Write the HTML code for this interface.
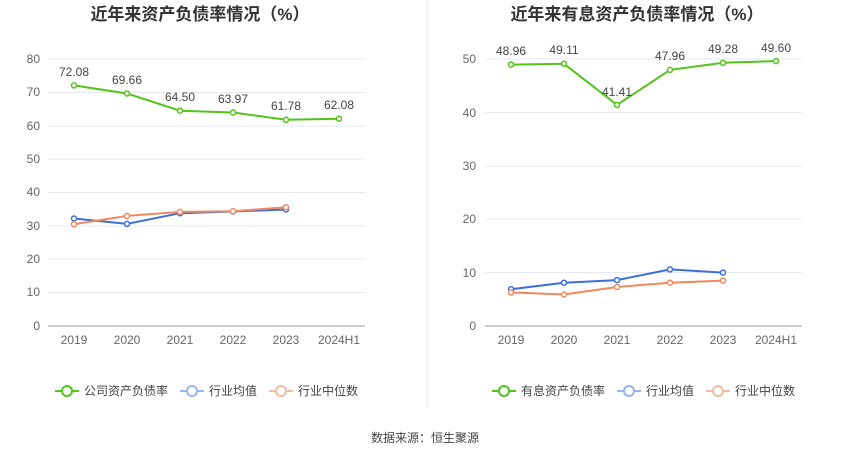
<!DOCTYPE html>
<html><head><meta charset="utf-8"><style>
html,body{margin:0;padding:0;background:#fff;}
svg{display:block;font-family:"Liberation Sans","Noto Sans CJK SC",sans-serif;}
</style></head><body>
<svg width="850" height="459" viewBox="0 0 850 459" xmlns="http://www.w3.org/2000/svg">
<rect width="850" height="459" fill="#fff"/>
<text x="200" y="20" text-anchor="middle" font-size="17" font-weight="bold" fill="#333">近年来资产负债率情况（%）</text>
<text x="637" y="20" text-anchor="middle" font-size="17" font-weight="bold" fill="#333">近年来有息资产负债率情况（%）</text>
<line x1="427" y1="0" x2="427" y2="408" stroke="#e8e8e8"/>
<!-- left grid -->
<g stroke="#e6e9f0" stroke-width="1">
<line x1="48" x2="365" y1="59" y2="59"/><line x1="48" x2="365" y1="92.5" y2="92.5"/><line x1="48" x2="365" y1="126" y2="126"/><line x1="48" x2="365" y1="159" y2="159"/><line x1="48" x2="365" y1="192.5" y2="192.5"/><line x1="48" x2="365" y1="226" y2="226"/><line x1="48" x2="365" y1="259" y2="259"/><line x1="48" x2="365" y1="292.5" y2="292.5"/>
</g>
<line x1="48" x2="365" y1="326" y2="326" stroke="#999"/>
<g font-size="12" fill="#666" text-anchor="end">
<text x="40" y="63">80</text><text x="40" y="96">70</text><text x="40" y="130">60</text><text x="40" y="163">50</text><text x="40" y="196">40</text><text x="40" y="230">30</text><text x="40" y="263">20</text><text x="40" y="296">10</text><text x="40" y="330">0</text>
</g>
<g font-size="12" fill="#666" text-anchor="middle">
<text x="74" y="344">2019</text><text x="127" y="344">2020</text><text x="180" y="344">2021</text><text x="233" y="344">2022</text><text x="286" y="344">2023</text><text x="339" y="344">2024H1</text>
</g>
<g fill="none" stroke-width="2">
<polyline stroke="#52c41a" points="74,85.4 127,93.5 180,110.7 233,112.5 286,119.8 339,118.8"/>
<polyline stroke="#3b6fd8" points="74,218.5 127,223.9 180,213.2 233,211.5 286,209.5"/>
<polyline stroke="#f08a5d" points="74,224.2 127,215.9 180,211.9 233,211.2 286,207.2"/>
</g>
<g fill="#fff" stroke-width="1.5">
<g stroke="#52c41a"><circle cx="74" cy="85.4" r="2.5"/><circle cx="127" cy="93.5" r="2.5"/><circle cx="180" cy="110.7" r="2.5"/><circle cx="233" cy="112.5" r="2.5"/><circle cx="286" cy="119.8" r="2.5"/><circle cx="339" cy="118.8" r="2.5"/></g>
<g stroke="#3b6fd8"><circle cx="74" cy="218.5" r="2.5"/><circle cx="127" cy="223.9" r="2.5"/><circle cx="180" cy="213.2" r="2.5"/><circle cx="233" cy="211.5" r="2.5"/><circle cx="286" cy="209.5" r="2.5"/></g>
<g stroke="#f08a5d"><circle cx="74" cy="224.2" r="2.5"/><circle cx="127" cy="215.9" r="2.5"/><circle cx="180" cy="211.9" r="2.5"/><circle cx="233" cy="211.2" r="2.5"/><circle cx="286" cy="207.2" r="2.5"/></g>
</g>
<g font-size="12" fill="#444" text-anchor="middle">
<text x="74" y="76">72.08</text><text x="127" y="84">69.66</text><text x="180" y="101">64.50</text><text x="233" y="103">63.97</text><text x="286" y="110">61.78</text><text x="339" y="109">62.08</text>
</g>
<!-- right grid -->
<g stroke="#e6e9f0" stroke-width="1">
<line x1="485" x2="802" y1="59" y2="59"/><line x1="485" x2="802" y1="112.5" y2="112.5"/><line x1="485" x2="802" y1="166" y2="166"/><line x1="485" x2="802" y1="219" y2="219"/><line x1="485" x2="802" y1="272.5" y2="272.5"/>
</g>
<line x1="485" x2="802" y1="326" y2="326" stroke="#999"/>
<g font-size="12" fill="#666" text-anchor="end">
<text x="476" y="63">50</text><text x="476" y="117">40</text><text x="476" y="170">30</text><text x="476" y="223">20</text><text x="476" y="277">10</text><text x="476" y="330">0</text>
</g>
<g font-size="12" fill="#666" text-anchor="middle">
<text x="511" y="344">2019</text><text x="564" y="344">2020</text><text x="617" y="344">2021</text><text x="670" y="344">2022</text><text x="723" y="344">2023</text><text x="776" y="344">2024H1</text>
</g>
<g fill="none" stroke-width="2">
<polyline stroke="#52c41a" points="511,64.6 564,63.8 617,104.9 670,69.9 723,62.8 776,61.1"/>
<polyline stroke="#3b6fd8" points="511,289.2 564,282.7 617,280.1 670,269.4 723,272.6"/>
<polyline stroke="#f08a5d" points="511,292.4 564,294.5 617,287 670,282.7 723,280.6"/>
</g>
<g fill="#fff" stroke-width="1.5">
<g stroke="#52c41a"><circle cx="511" cy="64.6" r="2.5"/><circle cx="564" cy="63.8" r="2.5"/><circle cx="617" cy="104.9" r="2.5"/><circle cx="670" cy="69.9" r="2.5"/><circle cx="723" cy="62.8" r="2.5"/><circle cx="776" cy="61.1" r="2.5"/></g>
<g stroke="#3b6fd8"><circle cx="511" cy="289.2" r="2.5"/><circle cx="564" cy="282.7" r="2.5"/><circle cx="617" cy="280.1" r="2.5"/><circle cx="670" cy="269.4" r="2.5"/><circle cx="723" cy="272.6" r="2.5"/></g>
<g stroke="#f08a5d"><circle cx="511" cy="292.4" r="2.5"/><circle cx="564" cy="294.5" r="2.5"/><circle cx="617" cy="287" r="2.5"/><circle cx="670" cy="282.7" r="2.5"/><circle cx="723" cy="280.6" r="2.5"/></g>
</g>
<g font-size="12" fill="#444" text-anchor="middle">
<text x="511" y="55">48.96</text><text x="564" y="54">49.11</text><text x="617" y="96">41.41</text><text x="670" y="60">47.96</text><text x="723" y="53">49.28</text><text x="776" y="52">49.60</text>
</g>
<!-- legends -->
<g font-size="12" fill="#444">
<line x1="55" x2="79" y1="391" y2="391" stroke="#52c41a" stroke-width="2"/><circle cx="67" cy="391" r="5" fill="#fff" stroke="#52c41a" stroke-width="2"/><text x="84" y="395">公司资产负债率</text>
<line x1="180" x2="204" y1="391" y2="391" stroke="#9ab4ee" stroke-width="2"/><circle cx="192" cy="391" r="5" fill="#fff" stroke="#9ab4ee" stroke-width="2"/><text x="209" y="395">行业均值</text>
<line x1="269" x2="293" y1="391" y2="391" stroke="#f5b9a0" stroke-width="2"/><circle cx="281" cy="391" r="5" fill="#fff" stroke="#f5b9a0" stroke-width="2"/><text x="298" y="395">行业中位数</text>
<line x1="492" x2="516" y1="391" y2="391" stroke="#52c41a" stroke-width="2"/><circle cx="504" cy="391" r="5" fill="#fff" stroke="#52c41a" stroke-width="2"/><text x="521" y="395">有息资产负债率</text>
<line x1="617" x2="641" y1="391" y2="391" stroke="#9ab4ee" stroke-width="2"/><circle cx="629" cy="391" r="5" fill="#fff" stroke="#9ab4ee" stroke-width="2"/><text x="646" y="395">行业均值</text>
<line x1="706" x2="730" y1="391" y2="391" stroke="#f5b9a0" stroke-width="2"/><circle cx="718" cy="391" r="5" fill="#fff" stroke="#f5b9a0" stroke-width="2"/><text x="735" y="395">行业中位数</text>
</g>
<text x="425" y="442" text-anchor="middle" font-size="12" fill="#444">数据来源：恒生聚源</text>
</svg>
</body></html>
